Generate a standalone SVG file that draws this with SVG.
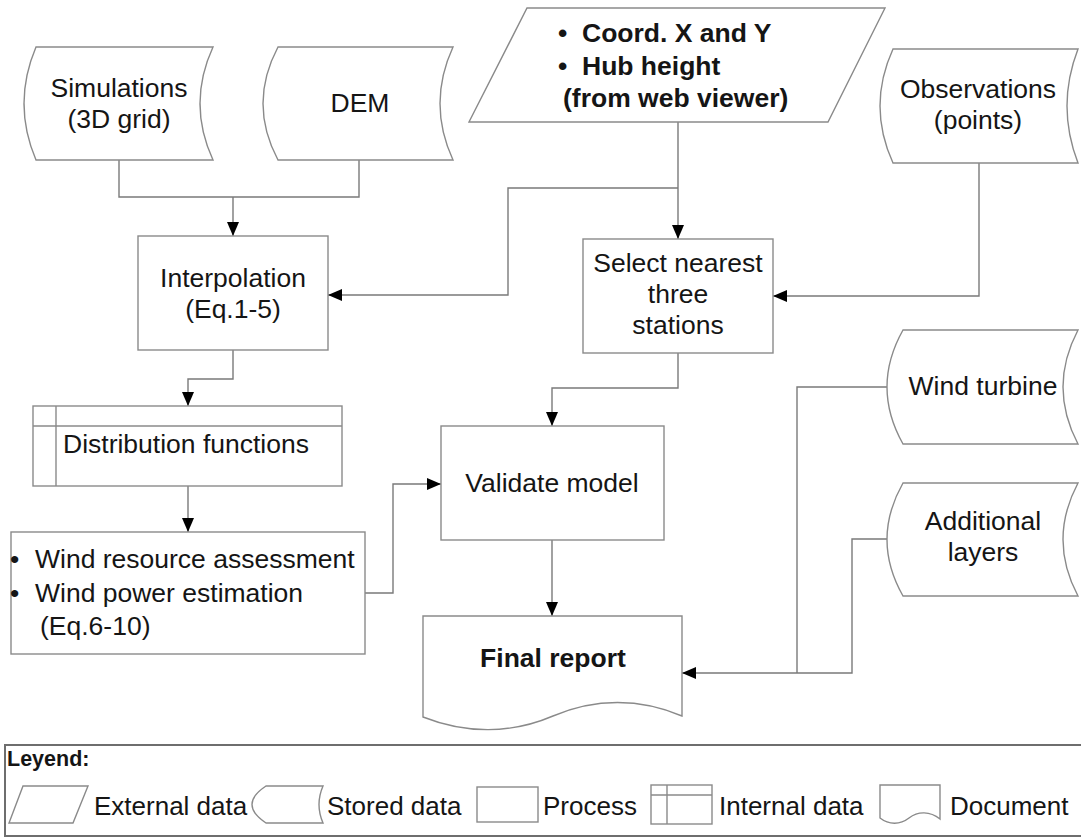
<svg xmlns="http://www.w3.org/2000/svg" width="1081" height="839" viewBox="0 0 1081 839">
<style>
.s{fill:#fff;stroke:#8a8a8a;stroke-width:1.4}
.c{fill:none;stroke:#7a7a7a;stroke-width:1.4}
.t{font-family:"Liberation Sans",Arial,sans-serif;font-size:26.5px;fill:#151515}
.m{text-anchor:middle}
.b{font-weight:bold}
.l{font-family:"Liberation Sans",Arial,sans-serif;font-size:26px;fill:#151515}
</style>
<defs>
<marker id="ah" viewBox="0 0 14 12" refX="14" refY="6" markerWidth="14" markerHeight="12" markerUnits="userSpaceOnUse" orient="auto">
<path d="M0,0 L14,6 L0,12 Z" fill="#000"/>
</marker>
</defs>
<rect width="1081" height="839" fill="#fff"/>

<g id="connectors">
<path class="c" d="M119,160 V197 H359 V160"/>
<path class="c" d="M233,197 V236" marker-end="url(#ah)"/>
<path class="c" d="M678,122 V239" marker-end="url(#ah)"/>
<path class="c" d="M678,188 H508 V295 H328" marker-end="url(#ah)"/>
<path class="c" d="M979,163 V296 H773" marker-end="url(#ah)"/>
<path class="c" d="M233,350 V379 H188 V406" marker-end="url(#ah)"/>
<path class="c" d="M188,486 V532" marker-end="url(#ah)"/>
<path class="c" d="M365,593 H393 V484 H441" marker-end="url(#ah)"/>
<path class="c" d="M678,353 V388 H552 V426" marker-end="url(#ah)"/>
<path class="c" d="M552,540 V616" marker-end="url(#ah)"/>
<path class="c" d="M887,387 H797 V673"/>
<path class="c" d="M887,539 H852 V673 H682" marker-end="url(#ah)"/>
</g>

<g id="simulations">
<path class="s" d="M36,47 H213 Q187,103.5 213,160 H36 Q12,103.5 36,47 Z"/>
<text class="t m" x="119" y="97">Simulations</text>
<text class="t m" x="119" y="128">(3D grid)</text>
</g>

<g id="dem">
<path class="s" d="M278,47 H453 Q427,103.5 453,160 H278 Q248,103.5 278,47 Z"/>
<text class="t m" x="360" y="112">DEM</text>
</g>

<g id="external-data">
<path class="s" d="M527,8 H885 L828,122 H469 Z"/>
<text class="t b" x="558" y="42">•</text>
<text class="t b" x="582" y="42">Coord. X and Y</text>
<text class="t b" x="558" y="75">•</text>
<text class="t b" x="582" y="75">Hub height</text>
<text class="t b" x="563" y="107">(from web viewer)</text>
</g>

<g id="observations">
<path class="s" d="M893,49 H1078 Q1056,106 1078,163 H893 Q867,106 893,49 Z"/>
<text class="t m" x="978" y="98">Observations</text>
<text class="t m" x="978" y="129">(points)</text>
</g>

<g id="interpolation">
<rect class="s" x="138" y="236" width="190" height="114"/>
<text class="t m" x="233" y="287">Interpolation</text>
<text class="t m" x="233" y="318">(Eq.1-5)</text>
</g>

<g id="select-stations">
<rect class="s" x="583" y="239" width="190" height="114"/>
<text class="t m" x="678" y="272">Select nearest</text>
<text class="t m" x="678" y="303">three</text>
<text class="t m" x="678" y="334">stations</text>
</g>

<g id="distribution">
<rect class="s" x="33" y="406" width="309" height="80"/>
<path d="M33,426 H342 M56,406 V486" fill="none" stroke="#8a8a8a" stroke-width="1.4"/>
<text class="t" x="63" y="453">Distribution functions</text>
</g>

<g id="wind-assessment">
<rect class="s" x="11" y="532" width="354" height="122"/>
<text class="t" x="10" y="568">•</text>
<text class="t" x="35" y="568">Wind resource assessment</text>
<text class="t" x="10" y="602">•</text>
<text class="t" x="35" y="602">Wind power estimation</text>
<text class="t" x="40" y="635">(Eq.6-10)</text>
</g>

<g id="validate">
<rect class="s" x="441" y="426" width="223" height="114"/>
<text class="t m" x="552" y="492">Validate model</text>
</g>

<g id="final-report">
<path class="s" d="M423,616 H682 V716 C640,698 595,698 553,716 C511,734 466,734 423,717 Z"/>
<text class="t m b" x="553" y="667">Final report</text>
</g>

<g id="wind-turbine">
<path class="s" d="M903,330 H1078 Q1048,387 1078,444 H903 Q871,387 903,330 Z"/>
<text class="t m" x="983" y="395">Wind turbine</text>
</g>

<g id="additional-layers">
<path class="s" d="M903,483 H1078 Q1048,539.5 1078,596 H903 Q871,539.5 903,483 Z"/>
<text class="t m" x="983" y="530">Additional</text>
<text class="t m" x="983" y="561">layers</text>
</g>

<g id="legend">
<rect x="5" y="745" width="1090" height="91" fill="#fff" stroke="#6e6e6e" stroke-width="2"/>
<text class="l b" x="7" y="766" style="font-size:21.5px">Leyend:</text>
<path class="s" d="M23,786 H88 L73,823 H9 Z"/>
<text class="l" x="94" y="815">External data</text>
<path class="s" d="M266,786 H323 Q315,804.5 323,823 H266 Q238,804.5 266,786 Z"/>
<text class="l" x="327" y="815">Stored data</text>
<rect class="s" x="477" y="787" width="61" height="35"/>
<text class="l" x="543" y="815">Process</text>
<rect class="s" x="651" y="785" width="61" height="39"/>
<path d="M651,795 H712 M667,785 V824" fill="none" stroke="#8a8a8a" stroke-width="1.4"/>
<text class="l" x="719" y="815">Internal data</text>
<path class="s" d="M880,785 H940 V819 C930,811 918,811 909,818 C900,825 889,825 880,818 Z"/>
<text class="l" x="950" y="815">Document</text>
</g>
</svg>
